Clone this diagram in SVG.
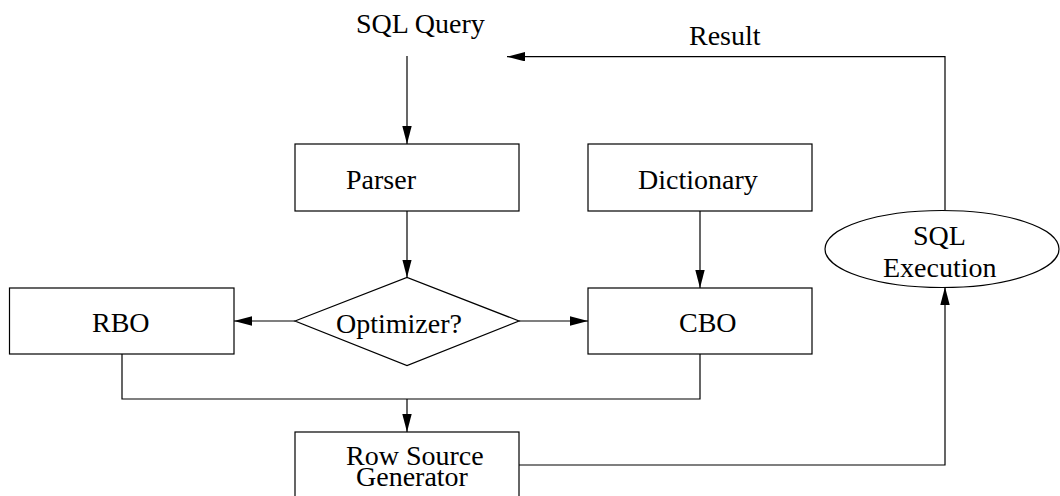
<svg xmlns="http://www.w3.org/2000/svg" width="1060" height="496" viewBox="0 0 1060 496">
  <style>
    .box { fill: #fff; stroke: #000; stroke-width: 1.2; }
    .wire { fill: none; stroke: #000; stroke-width: 1.2; }
    text { font-family: "Liberation Serif", "Times New Roman", serif; font-size: 28px; fill: #000; }
  </style>
  <defs>
    <marker id="arrow" markerUnits="userSpaceOnUse" markerWidth="18" markerHeight="10" refX="18" refY="4.7" orient="auto">
      <path d="M0,0 L18,4.7 L0,9.4 Z" fill="#000"/>
    </marker>
  </defs>
  <rect width="1060" height="496" fill="#fff"/>

  <!-- connectors -->
  <g id="connectors">
    <line class="wire" x1="407" y1="56" x2="407" y2="144" marker-end="url(#arrow)"/>
    <line class="wire" x1="407" y1="211" x2="407" y2="277.5" marker-end="url(#arrow)"/>
    <line class="wire" x1="700" y1="211" x2="700" y2="288" marker-end="url(#arrow)"/>
    <line class="wire" x1="295" y1="321" x2="234" y2="321" marker-end="url(#arrow)"/>
    <line class="wire" x1="519" y1="321" x2="588" y2="321" marker-end="url(#arrow)"/>
    <polyline class="wire" points="122,354 122,399 700,399 700,354"/>
    <line class="wire" x1="407" y1="399" x2="407" y2="432" marker-end="url(#arrow)"/>
    <polyline class="wire" points="519,465 945,465 945,287" marker-end="url(#arrow)"/>
    <polyline class="wire" points="945,210.5 945,56.7 507,56.7" marker-end="url(#arrow)"/>
  </g>

  <!-- free labels -->
  <g id="query">
    <text x="356" y="33">SQL Query</text>
  </g>
  <g id="result">
    <text x="689" y="45">Result</text>
  </g>

  <!-- nodes -->
  <g id="parser">
    <rect class="box" x="295" y="144" width="224" height="67"/>
    <text x="346" y="189">Parser</text>
  </g>
  <g id="dictionary">
    <rect class="box" x="588" y="144" width="224" height="67"/>
    <text x="638" y="189">Dictionary</text>
  </g>
  <g id="optimizer">
    <polygon class="box" points="295,321 407,277.5 519,321 407,365.5"/>
    <text x="336" y="333">Optimizer?</text>
  </g>
  <g id="rbo">
    <rect class="box" x="9.5" y="288" width="224.5" height="66"/>
    <text x="92" y="332">RBO</text>
  </g>
  <g id="cbo">
    <rect class="box" x="588" y="288" width="224" height="66"/>
    <text x="679" y="332">CBO</text>
  </g>
  <g id="row-source-generator">
    <rect class="box" x="295" y="432" width="224" height="80"/>
    <text x="346" y="465">Row Source</text>
    <text x="356" y="486">Generator</text>
  </g>
  <g id="sql-execution">
    <ellipse class="box" cx="942" cy="249" rx="117" ry="38.5"/>
    <text x="913" y="245">SQL</text>
    <text x="883" y="277">Execution</text>
  </g>
</svg>
